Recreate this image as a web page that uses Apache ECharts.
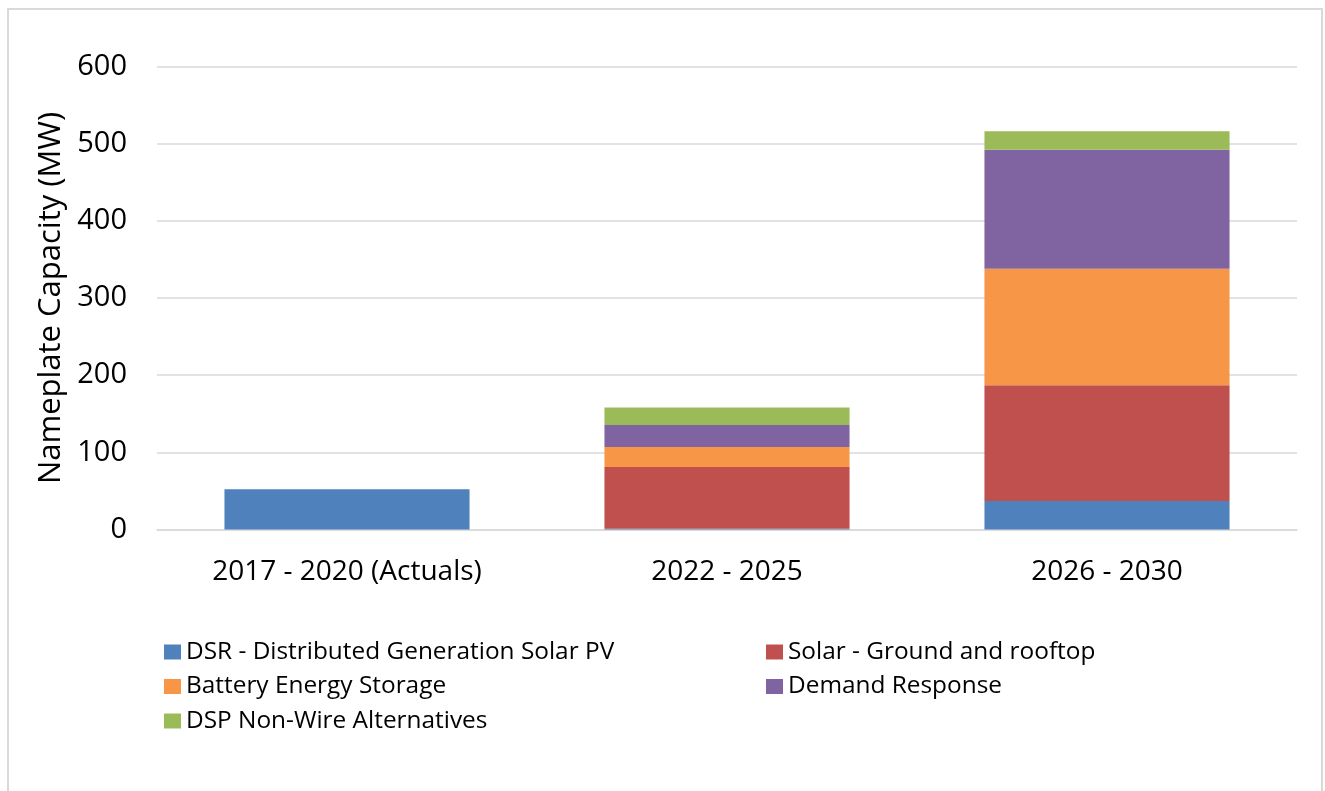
<!DOCTYPE html>
<html>
<head>
<meta charset="utf-8">
<script src="https://cdn.jsdelivr.net/npm/echarts@6/dist/echarts.min.js"></script>
<style>
  html, body { margin: 0; padding: 0; background: #fff; }
  #chart { width: 1325px; height: 791px; }
</style>
</head>
<body>
<div id="chart"></div>
<script>
  // categories and stacked values (MW)
  var periods = ['2017 - 2020 (Actuals)', '2022 - 2025', '2026 - 2030']
  var seriesNames = [
    'DSR - Distributed Generation Solar PV',
    'Solar - Ground and rooftop',
    'Battery Energy Storage',
    'Demand Response',
    'DSP Non-Wire Alternatives'
  ]
  var dsrSolar = [52, 1, 37]
  var solarGround = [0, 80, 150]
  var battery = [0, 26, 151]
  var demandResponse = [0, 28.5, 154]
  var nonWire = [0, 22.5, 24]
  var yTicks = [0, 100, 200, 300, 400, 500, 600]

  var colors = ['#4f81bd', '#c0504d', '#f79646', '#8064a2', '#9bbb59']
  var font = 'Open Sans'
  var values = [dsrSolar, solarGround, battery, demandResponse, nonWire]

  var series = []
  for (var i = 0; i < seriesNames.length; i++) {
    series.push({
      name: seriesNames[i],
      type: 'bar',
      stack: 'total',
      barWidth: '64.5%',
      itemStyle: { color: colors[i] },
      data: values[i]
    })
  }

  var legendText = { fontFamily: font, fontSize: 24.4, color: '#000', lineHeight: 24 }

  var chart = echarts.init(document.getElementById('chart'))
  chart.setOption({
    animation: false,
    color: colors,
    textStyle: { fontFamily: font },
    graphic: [{
      type: 'rect',
      shape: { x: 8, y: 9, width: 1314, height: 800 },
      style: { fill: 'none', stroke: '#d9d9d9', lineWidth: 2 },
      z: -10
    }],
    grid: { left: 157, right: 28, top: 66.5, bottom: 261.5 },
    legend: [{
      orient: 'vertical',
      left: 164,
      top: 640,
      padding: 0,
      itemWidth: 17,
      itemHeight: 15,
      itemGap: 10.5,
      icon: 'rect',
      textStyle: legendText,
      data: [seriesNames[0], seriesNames[2], seriesNames[4]]
    }, {
      orient: 'vertical',
      left: 766,
      top: 640,
      padding: 0,
      itemWidth: 17,
      itemHeight: 15,
      itemGap: 10.5,
      icon: 'rect',
      textStyle: legendText,
      data: [seriesNames[1], seriesNames[3]]
    }],
    xAxis: {
      type: 'category',
      data: periods,
      axisTick: { show: false },
      axisLine: { lineStyle: { color: '#d9d9d9', width: 1.5 } },
      axisLabel: { fontFamily: font, fontSize: 28, color: '#000', margin: 29 }
    },
    yAxis: {
      type: 'value',
      min: yTicks[0],
      max: yTicks[yTicks.length - 1],
      interval: 100,
      name: 'Nameplate Capacity (MW)',
      nameLocation: 'middle',
      nameGap: 88,
      nameTextStyle: { fontFamily: font, fontSize: 31, color: '#000' },
      axisLine: { show: false },
      axisTick: { show: false },
      splitLine: { lineStyle: { color: '#d9d9d9', width: 1.5 } },
      axisLabel: { fontFamily: font, fontSize: 29, color: '#000', margin: 30 }
    },
    series: series
  })
</script>
</body>
</html>
